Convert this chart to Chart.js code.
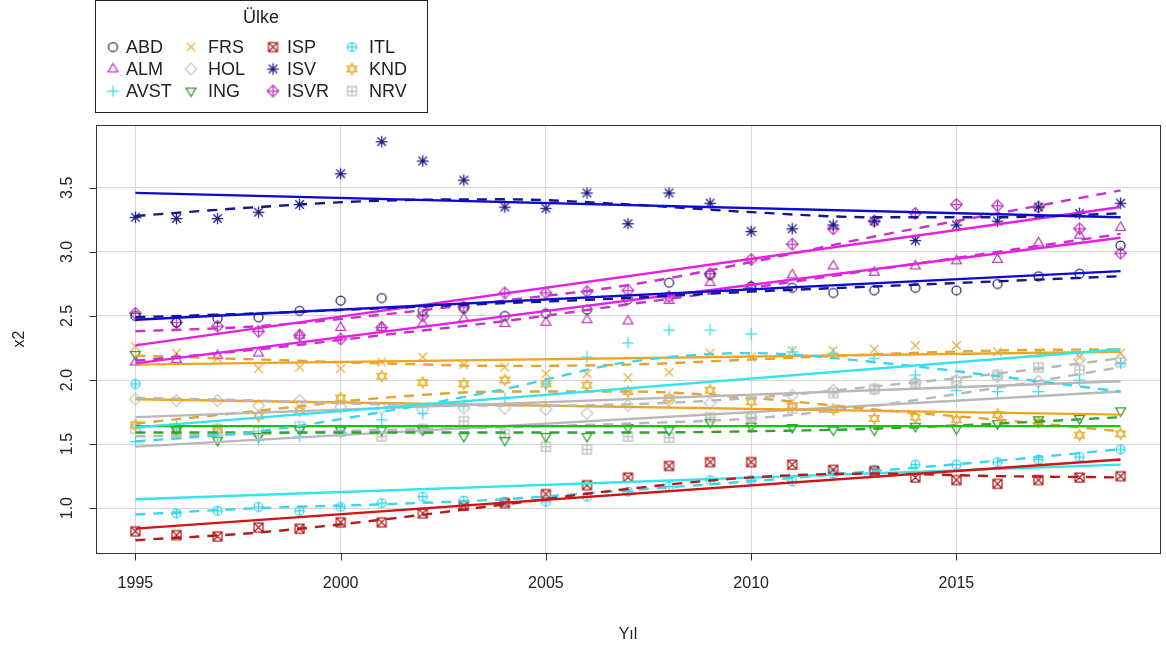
<!DOCTYPE html>
<html>
<head>
<meta charset="utf-8">
<script src="https://cdn.jsdelivr.net/npm/chart.js@4.4.0/dist/chart.umd.min.js"></script>
<style>
  html, body { margin: 0; padding: 0; background: #fff; }
</style>
</head>
<body>
<canvas id="myChart" width="1166" height="650"></canvas>
<script>
let years = [1995, 1996, 1997, 1998, 1999, 2000, 2001, 2002, 2003, 2004, 2005, 2006, 2007,
             2008, 2009, 2010, 2011, 2012, 2013, 2014, 2015, 2016, 2017, 2018, 2019];
let xTicks = [1995, 2000, 2005, 2010, 2015];
let yTicks = [1.0, 1.5, 2.0, 2.5, 3.0, 3.5];
let countries = ['ABD', 'ALM', 'AVST', 'FRS', 'HOL', 'ING', 'ISP', 'ISV', 'ISVR', 'ITL', 'KND', 'NRV'];

// observed values (x2) per country
let abd  = [2.50, 2.45, 2.48, 2.49, 2.54, 2.62, 2.64, 2.54, 2.56, 2.50, 2.52, 2.55, 2.63, 2.76, 2.82, 2.73, 2.72, 2.68, 2.70, 2.72, 2.70, 2.75, 2.81, 2.83, 3.05];
let alm  = [2.14, 2.16, 2.19, 2.21, 2.35, 2.41, 2.41, 2.44, 2.48, 2.44, 2.45, 2.47, 2.46, 2.62, 2.76, 2.73, 2.82, 2.89, 2.84, 2.89, 2.93, 2.94, 3.07, 3.13, 3.19];
let avst = [1.52, 1.64, 1.57, 1.53, 1.56, 1.59, 1.69, 1.74, 1.80, 1.86, 1.97, 2.18, 2.29, 2.39, 2.39, 2.36, 2.22, 2.21, 2.17, 2.04, 1.92, 1.91, 1.91, 2.00, 2.13];
let frs  = [2.26, 2.21, 2.17, 2.09, 2.10, 2.09, 2.14, 2.18, 2.12, 2.10, 2.05, 2.05, 2.02, 2.06, 2.21, 2.18, 2.23, 2.23, 2.24, 2.27, 2.27, 2.22, 2.21, 2.18, 2.21];
let hol  = [1.85, 1.84, 1.84, 1.80, 1.84, 1.79, 1.78, 1.77, 1.78, 1.78, 1.77, 1.74, 1.80, 1.84, 1.82, 1.71, 1.88, 1.92, 1.93, 1.98, 2.00, 2.03, 1.99, 2.16, 2.16];
let ing  = [2.20, 1.61, 1.53, 1.56, 1.61, 1.61, 1.61, 1.61, 1.56, 1.53, 1.56, 1.56, 1.63, 1.61, 1.67, 1.64, 1.63, 1.61, 1.61, 1.64, 1.62, 1.66, 1.69, 1.70, 1.76];
let isp  = [0.82, 0.79, 0.78, 0.85, 0.84, 0.89, 0.89, 0.96, 1.02, 1.04, 1.11, 1.18, 1.24, 1.33, 1.36, 1.36, 1.34, 1.30, 1.29, 1.24, 1.22, 1.19, 1.22, 1.24, 1.25];
let isv  = [3.27, 3.26, 3.26, 3.31, 3.37, 3.61, 3.86, 3.71, 3.56, 3.35, 3.34, 3.46, 3.22, 3.46, 3.38, 3.16, 3.18, 3.21, 3.24, 3.09, 3.21, 3.24, 3.35, 3.30, 3.38];
let isvr = [2.52, 2.45, 2.42, 2.38, 2.35, 2.32, 2.41, 2.50, 2.57, 2.68, 2.68, 2.69, 2.70, 2.65, 2.83, 2.94, 3.06, 3.18, 3.24, 3.30, 3.37, 3.36, 3.35, 3.18, 2.99];
let itl  = [1.97, 0.96, 0.98, 1.01, 0.98, 1.01, 1.04, 1.09, 1.06, 1.05, 1.05, 1.09, 1.13, 1.17, 1.22, 1.22, 1.21, 1.27, 1.30, 1.34, 1.34, 1.36, 1.38, 1.40, 1.46];
let knd  = [1.65, 1.61, 1.61, 1.72, 1.76, 1.86, 2.03, 1.98, 1.97, 2.00, 1.97, 1.96, 1.91, 1.86, 1.92, 1.83, 1.80, 1.77, 1.70, 1.71, 1.69, 1.73, 1.67, 1.57, 1.58];
let nrv  = [1.62, 1.58, 1.62, 1.60, 1.64, 1.60, 1.56, 1.62, 1.68, 1.58, 1.48, 1.46, 1.56, 1.55, 1.71, 1.71, 1.78, 1.90, 1.93, 1.97, 1.99, 2.04, 2.10, 2.08, 2.14];

// straight fitted lines (solid), value at 1995 and 2019
let fitYears = [1995, 2019];
let abdFit  = [2.47, 2.85];
let almFit  = [2.13, 3.11];
let avstFit = [1.63, 2.24];
let frsFit  = [2.12, 2.22];
let holFit  = [1.71, 1.99];
let ingFit  = [1.64, 1.64];
let ispFit  = [0.84, 1.38];
let isvFit  = [3.46, 3.27];
let isvrFit = [2.27, 3.35];
let itlFit  = [1.07, 1.34];
let kndFit  = [1.85, 1.73];
let nrvFit  = [1.48, 1.91];

// smooth curves (dashed)
let smoothYears = [1995, 1998, 2001, 2004, 2007, 2010, 2013, 2016, 2019];
let abdSmooth  = [2.49, 2.52, 2.56, 2.60, 2.64, 2.69, 2.73, 2.77, 2.81];
let almSmooth  = [2.15, 2.24, 2.35, 2.46, 2.59, 2.72, 2.86, 3.00, 3.14];
let avstSmooth = [1.52, 1.60, 1.75, 1.93, 2.14, 2.21, 2.14, 2.03, 1.91];
let frsSmooth  = [2.19, 2.16, 2.13, 2.11, 2.12, 2.16, 2.20, 2.23, 2.24];
let holSmooth  = [1.86, 1.84, 1.81, 1.80, 1.81, 1.86, 1.95, 2.05, 2.17];
let ingSmooth  = [1.59, 1.59, 1.59, 1.59, 1.59, 1.60, 1.62, 1.66, 1.71];
let ispSmooth  = [0.75, 0.81, 0.91, 1.03, 1.15, 1.24, 1.27, 1.25, 1.24];
let isvSmooth  = [3.28, 3.35, 3.40, 3.41, 3.37, 3.31, 3.27, 3.27, 3.30];
let isvrSmooth = [2.38, 2.42, 2.51, 2.62, 2.74, 2.92, 3.12, 3.30, 3.48];
let itlSmooth  = [0.95, 1.00, 1.03, 1.07, 1.14, 1.21, 1.29, 1.37, 1.46];
let kndSmooth  = [1.66, 1.76, 1.86, 1.91, 1.91, 1.86, 1.77, 1.69, 1.60];
let nrvSmooth  = [1.56, 1.58, 1.61, 1.63, 1.66, 1.70, 1.80, 1.94, 2.10];

let values  = [abd, alm, avst, frs, hol, ing, isp, isv, isvr, itl, knd, nrv];
let fits    = [abdFit, almFit, avstFit, frsFit, holFit, ingFit, ispFit, isvFit, isvrFit, itlFit, kndFit, nrvFit];
let smooths = [abdSmooth, almSmooth, avstSmooth, frsSmooth, holSmooth, ingSmooth, ispSmooth, isvSmooth, isvrSmooth, itlSmooth, kndSmooth, nrvSmooth];

let shapes      = ['circle', 'tri', 'plus', 'x', 'diamond', 'down', 'sqx', 'star', 'dplus', 'cplus', 'david', 'splus'];
let pointColors = ['#202058', '#c03cc0', '#2ee0f0', '#e8b040', '#c4c4c4', '#2e9e2e', '#b02020', '#1e1e82', '#c03cc0', '#2ed4f0', '#e8b030', '#bcbcbc'];
let lineColors  = ['#0c0cd0', '#e61ee6', '#30e4f0', '#f0a424', '#b8b8b8', '#14c414', '#d41414', '#0c0cd0', '#e61ee6', '#30e4f0', '#f0a424', '#b8b8b8'];
let dashColors  = ['#16168a', '#c832c8', '#3cd6ea', '#e2a434', '#b8b8b8', '#2ea62e', '#b41c1c', '#16168a', '#c832c8', '#3cd6ea', '#e2a434', '#b8b8b8'];

let fontFamily = '"Liberation Sans", Arial, sans-serif';

function symbol(kind, color) {
    let c = document.createElement('canvas');
    c.width = 17; c.height = 17;
    let g = c.getContext('2d');
    g.strokeStyle = color;
    g.lineWidth = 1.25;
    g.translate(8.5, 8.5);
    let r = 4.5;
    g.beginPath();
    if (kind === 'circle' || kind === 'cplus') {
        g.arc(0, 0, r, 0, Math.PI * 2);
    }
    if (kind === 'tri' || kind === 'david') {
        g.moveTo(0, -r * 1.25); g.lineTo(r * 1.1, r * 0.65); g.lineTo(-r * 1.1, r * 0.65); g.closePath();
    }
    if (kind === 'down' || kind === 'david') {
        g.moveTo(0, r * 1.25); g.lineTo(r * 1.1, -r * 0.65); g.lineTo(-r * 1.1, -r * 0.65); g.closePath();
    }
    if (kind === 'diamond' || kind === 'dplus') {
        g.moveTo(0, -r * 1.3); g.lineTo(r * 1.3, 0); g.lineTo(0, r * 1.3); g.lineTo(-r * 1.3, 0); g.closePath();
    }
    if (kind === 'sqx' || kind === 'splus') {
        g.rect(-r, -r, 2 * r, 2 * r);
    }
    if (kind === 'plus' || kind === 'star' || kind === 'dplus') {
        g.moveTo(-r * 1.3, 0); g.lineTo(r * 1.3, 0); g.moveTo(0, -r * 1.3); g.lineTo(0, r * 1.3);
    }
    if (kind === 'cplus' || kind === 'splus') {
        g.moveTo(-r, 0); g.lineTo(r, 0); g.moveTo(0, -r); g.lineTo(0, r);
    }
    if (kind === 'x' || kind === 'star' || kind === 'sqx') {
        let d = r * 0.95;
        g.moveTo(-d, -d); g.lineTo(d, d); g.moveTo(-d, d); g.lineTo(d, -d);
    }
    g.stroke();
    return c;
}

let symbols = shapes.map((s, i) => symbol(s, pointColors[i]));

let datasets = [];
countries.forEach((name, i) => {
    datasets.push({
        label: name + ' fit',
        data: fitYears.map((yr, k) => ({ x: yr, y: fits[i][k] })),
        borderColor: lineColors[i],
        borderWidth: 2.4,
        pointRadius: 0,
        showLine: true,
        order: 1
    });
    datasets.push({
        label: name + ' smooth',
        data: smoothYears.map((yr, k) => ({ x: yr, y: smooths[i][k] })),
        borderColor: dashColors[i],
        borderWidth: 2.4,
        borderDash: [10, 8],
        cubicInterpolationMode: 'monotone',
        pointRadius: 0,
        showLine: true,
        order: 1
    });
    datasets.push({
        label: name,
        data: years.map((yr, k) => ({ x: yr, y: values[i][k] })),
        pointStyle: symbols[i],
        pointRadius: 5,
        showLine: false,
        order: 2
    });
});

// legend, frame, tick marks and rotated y labels like the R plot
let rPlotExtras = {
    id: 'rPlotExtras',
    afterDraw(chart) {
        let ctx = chart.ctx;
        let a = chart.chartArea;
        let x = chart.scales.x;
        let y = chart.scales.y;
        ctx.save();
        ctx.strokeStyle = '#333';
        ctx.lineWidth = 1;
        let L = Math.round(a.left) + 0.5, T = Math.round(a.top) + 0.5;
        let R = Math.round(a.right) + 0.5, B = Math.round(a.bottom) + 0.5;
        ctx.strokeRect(L, T, R - L, B - T);

        ctx.beginPath();
        xTicks.forEach(v => {
            let px = Math.round(x.getPixelForValue(v)) + 0.5;
            ctx.moveTo(px, B); ctx.lineTo(px, B + 7);
        });
        yTicks.forEach(v => {
            let py = Math.round(y.getPixelForValue(v)) + 0.5;
            ctx.moveTo(L, py); ctx.lineTo(L - 7, py);
        });
        ctx.stroke();

        ctx.fillStyle = '#222';
        ctx.font = '16px ' + fontFamily;
        ctx.textAlign = 'center';
        ctx.textBaseline = 'middle';
        yTicks.forEach(v => {
            ctx.save();
            ctx.translate(68, y.getPixelForValue(v));
            ctx.rotate(-Math.PI / 2);
            ctx.fillText(v.toFixed(1), 0, 0);
            ctx.restore();
        });

        // legend box
        ctx.strokeStyle = '#222';
        ctx.strokeRect(95.5, 0.5, 332, 112);
        ctx.font = '18px ' + fontFamily;
        ctx.fillText('Ülke', 261, 18);
        let colSym = [113, 191, 273, 352];
        let colTxt = [126, 208, 287, 369];
        let rows = [47, 69, 91];
        ctx.textAlign = 'left';
        countries.forEach((name, i) => {
            let c = Math.floor(i / 3), r = i % 3;
            ctx.drawImage(symbols[i], colSym[c] - 8.5, rows[r] - 8.5);
            ctx.fillText(name, colTxt[c], rows[r] + 1);
        });
        ctx.restore();
    }
};

let myChart = document.getElementById('myChart').getContext('2d');

let chart = new Chart(myChart, {
    type: 'scatter',
    data: { datasets: datasets },
    plugins: [rPlotExtras],
    options: {
        responsive: false,
        animation: false,
        layout: { padding: { top: 125, right: 6, left: 0, bottom: 0 } },
        plugins: {
            legend: { display: false },
            tooltip: { enabled: false }
        },
        scales: {
            x: {
                type: 'linear',
                min: 1994.04,
                max: 2019.96,
                afterBuildTicks: s => { s.ticks = xTicks.map(v => ({ value: v })); },
                afterFit: s => { s.height = 97; },
                grid: { color: '#d6d6d6', drawTicks: false, lineWidth: 1 },
                border: { display: false },
                ticks: {
                    color: '#222',
                    padding: 21,
                    maxRotation: 0,
                    font: { family: fontFamily, size: 16 },
                    callback: v => String(v)
                },
                title: {
                    display: true,
                    text: 'Yıl',
                    color: '#222',
                    padding: 6,
                    font: { family: fontFamily, size: 16 }
                }
            },
            y: {
                type: 'linear',
                min: 0.65,
                max: 3.99,
                afterBuildTicks: s => { s.ticks = yTicks.map(v => ({ value: v })); },
                afterFit: s => { s.width = 96; },
                grid: { color: '#d6d6d6', drawTicks: false, lineWidth: 1 },
                border: { display: false },
                ticks: { display: false },
                title: {
                    display: true,
                    text: 'x2',
                    color: '#222',
                    padding: 10,
                    font: { family: fontFamily, size: 16 }
                }
            }
        }
    }
});
</script>
</body>
</html>
